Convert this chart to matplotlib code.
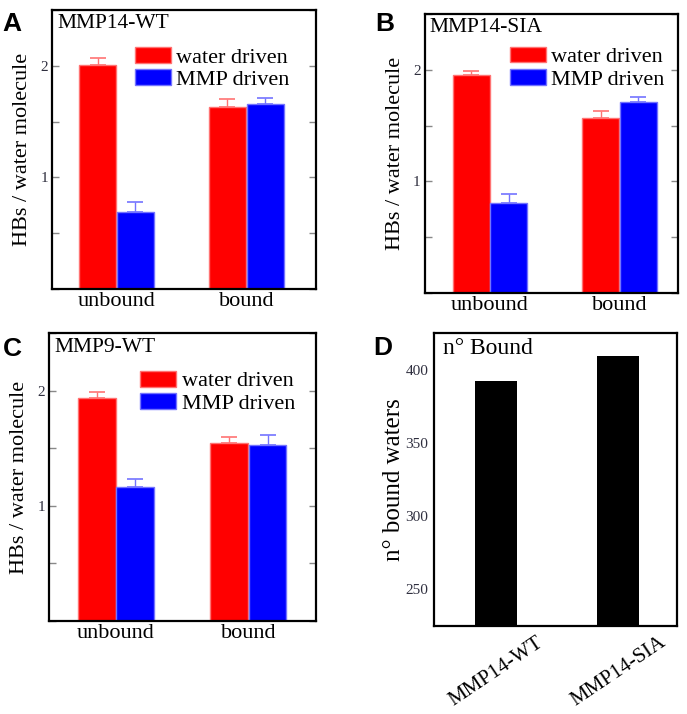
import matplotlib.pyplot as plt
from matplotlib.ticker import MultipleLocator
import numpy as np

# data
groups = ['unbound', 'bound']
series = ['water driven', 'MMP driven']

wt_water = [2.01, 1.63]
wt_water_err = [0.06, 0.07]
wt_mmp = [0.69, 1.66]
wt_mmp_err = [0.09, 0.05]

sia_water = [1.955, 1.57]
sia_water_err = [0.03, 0.06]
sia_mmp = [0.81, 1.71]
sia_mmp_err = [0.08, 0.045]

mmp9_water = [1.94, 1.55]
mmp9_water_err = [0.05, 0.05]
mmp9_mmp = [1.16, 1.53]
mmp9_mmp_err = [0.075, 0.09]

bound_names = ['MMP14-WT', 'MMP14-SIA']
bound_counts = [392.7, 409.5]

plt.rcParams['font.family'] = 'serif'
plt.rcParams['font.serif'] = ['Liberation Serif']
FS = 16
TICKCOL = '#2f2f3f'
RED, RED_E = '#ff0000', '#ff7373'
BLUE, BLUE_E = '#0000ff', '#7373ff'

fig = plt.figure(figsize=(6.87, 7.14), dpi=100)

axA = fig.add_axes([0.0757, 0.5952, 0.3843, 0.3908])
axB = fig.add_axes([0.6182, 0.5896, 0.3687, 0.3908])
axC = fig.add_axes([0.0718, 0.1303, 0.3878, 0.4029])
axD = fig.add_axes([0.6313, 0.1232, 0.3541, 0.4099])


def hb_panel(ax, title, water, water_err, mmp, mmp_err, xlim, leg_at):
    x = np.arange(len(groups))
    w = 0.285
    off = 0.146
    ax.bar(x - off, water, w, color=RED, edgecolor=RED_E, linewidth=1,
           label=series[0], zorder=2)
    ax.bar(x + off, mmp, w, color=BLUE, edgecolor=BLUE_E, linewidth=1,
           label=series[1], zorder=2)
    ax.errorbar(x - off, water, yerr=[np.zeros(len(water)), water_err],
                fmt='none', ecolor=RED_E, elinewidth=1, capsize=6,
                capthick=1.2, zorder=3)
    ax.errorbar(x + off, mmp, yerr=[np.zeros(len(mmp)), mmp_err],
                fmt='none', ecolor=BLUE_E, elinewidth=1, capsize=6,
                capthick=1.2, zorder=3)
    ax.set_xlim(*xlim)
    ax.set_ylim(0, 2.5)
    ax.set_xticks(x)
    ax.set_xticklabels(groups, fontsize=FS)
    ax.tick_params(axis='x', length=0, pad=2)
    ax.yaxis.set_major_locator(MultipleLocator(1))
    ax.yaxis.set_minor_locator(MultipleLocator(0.5))
    ax.set_yticks([1, 2])
    ax.set_yticklabels(['1', '2'])
    ax.tick_params(axis='y', which='both', direction='in', length=5,
                   width=1, color='#888888', right=True, labelsize=11,
                   labelcolor=TICKCOL, pad=3)
    ax.set_ylabel('HBs / water molecule', fontsize=FS, labelpad=6)
    for s in ax.spines.values():
        s.set_linewidth(1.6)
    ax.text(0.02, 0.985, title, transform=ax.transAxes, fontsize=15.5,
            va='top', ha='left')
    ax.legend(loc='upper right', bbox_to_anchor=leg_at,
              frameon=False, fontsize=FS,
              handlelength=1.6, handleheight=0.72, handletextpad=0.25,
              labelspacing=0.08, borderpad=0, borderaxespad=0)


hb_panel(axA, 'MMP14-WT', wt_water, wt_water_err, wt_mmp, wt_mmp_err,
         (-0.496, 1.535), (0.90, 0.868))
hb_panel(axB, 'MMP14-SIA', sia_water, sia_water_err, sia_mmp, sia_mmp_err,
         (-0.504, 1.452), (0.947, 0.883))
hb_panel(axC, 'MMP9-WT', mmp9_water, mmp9_water_err, mmp9_mmp, mmp9_mmp_err,
         (-0.504, 1.51), (0.922, 0.870))

# panel D
xd = np.arange(len(bound_names))
axD.bar(xd, bound_counts, 0.344, color='black', zorder=2)
axD.set_xlim(-0.506, 1.48)
axD.set_ylim(225, 425)
axD.set_yticks([250, 300, 350, 400])
axD.tick_params(axis='y', length=0, labelsize=11, labelcolor=TICKCOL, pad=4)
axD.set_xticks(xd)
axD.set_xticklabels(bound_names, fontsize=15, rotation=34, ha='center')
axD.tick_params(axis='x', length=0, pad=5)
axD.set_ylabel('n° bound waters', fontsize=18, labelpad=0)
for s in axD.spines.values():
    s.set_linewidth(1.6)
axD.text(0.04, 0.985, 'n° Bound', transform=axD.transAxes, fontsize=17,
         va='top', ha='left')

# panel letters
for lab, (px, py) in zip('ABCD', [(2, 12), (375, 12), (3, 337), (373, 336)]):
    fig.text(px / 687, 1 - py / 714, lab, fontsize=19, fontweight='bold',
             family='Liberation Sans', va='top', ha='left')

fig.savefig('out.png', dpi=100)
